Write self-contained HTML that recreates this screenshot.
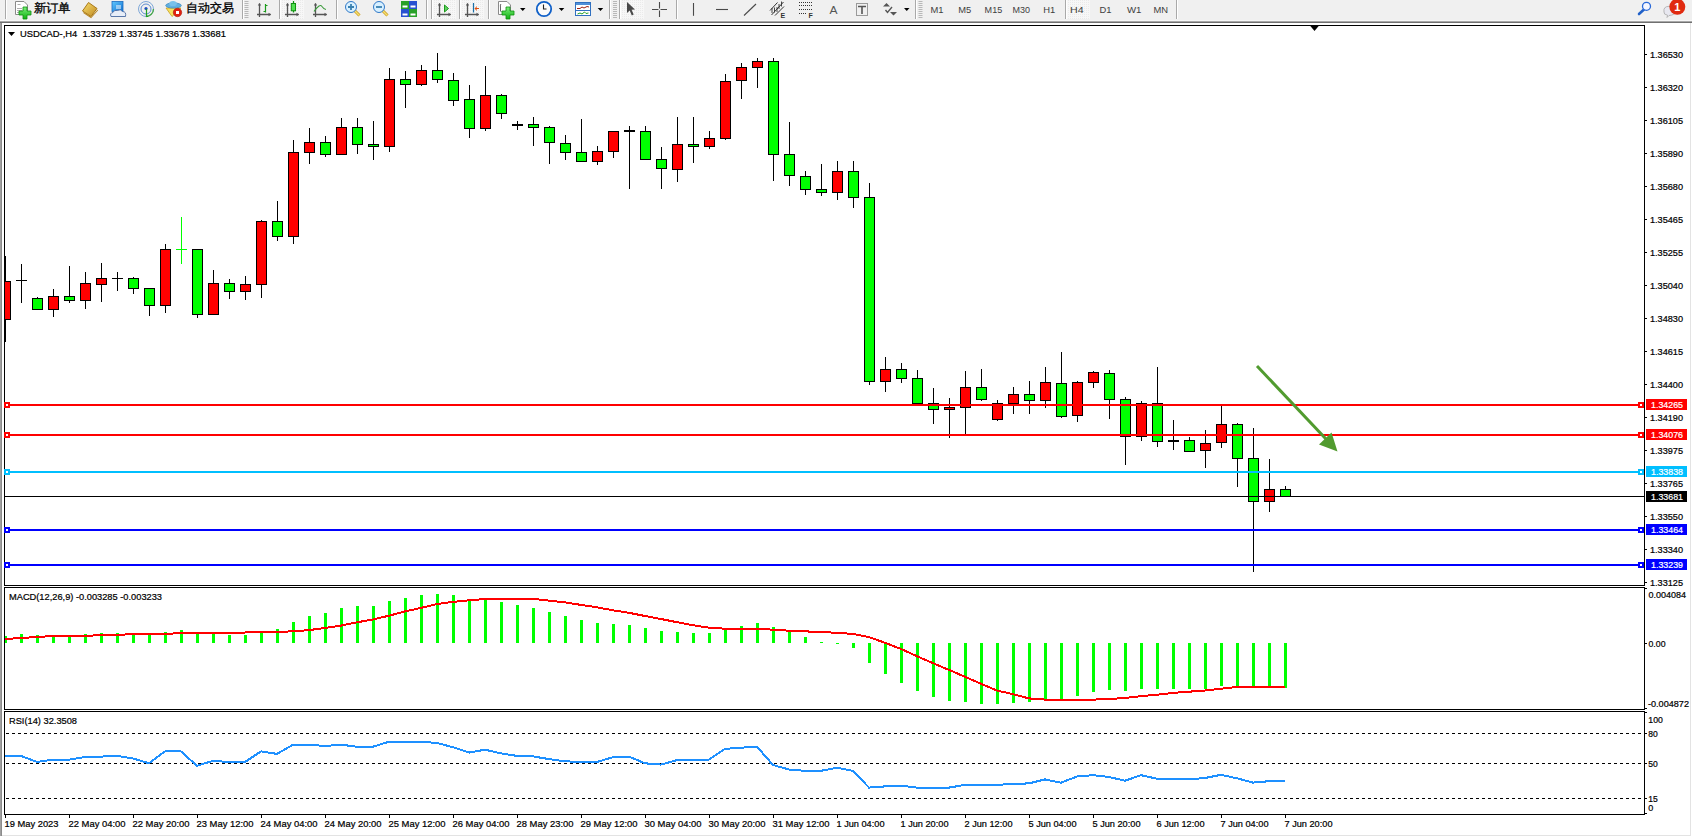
<!DOCTYPE html>
<html><head><meta charset="utf-8"><title>MT4</title>
<style>
html,body{margin:0;padding:0;width:1692px;height:837px;overflow:hidden;background:#FFF}
.t{font-family:"Liberation Sans",sans-serif;font-size:9.7px;fill:#000;stroke:#000;stroke-width:0.22px;white-space:pre}
.tb{font-family:"Liberation Sans",sans-serif;font-size:10px;fill:#333}
#toolbar{position:absolute;left:0;top:0;width:1692px;height:20px;background:#F0F0F0}
</style></head><body>
<svg width="1692" height="837" viewBox="0 0 1692 837" shape-rendering="crispEdges" style="position:absolute;left:0;top:0"><rect x="0" y="0" width="1692" height="837" fill="#FFFFFF"/><defs><clipPath id="cm"><rect x="5" y="26" width="1639" height="559"/></clipPath><clipPath id="cmacd"><rect x="5" y="588" width="1639" height="121"/></clipPath><clipPath id="crsi"><rect x="5" y="712" width="1639" height="102"/></clipPath></defs><rect x="0" y="21" width="1" height="815" fill="#A0A0A0"/><rect x="1" y="21" width="1" height="815" fill="#8C8C8C"/><rect x="0" y="20" width="1692" height="1" fill="#F7F7F7"/><rect x="0" y="21" width="1692" height="1" fill="#A8A8A8"/><rect x="0" y="22" width="1692" height="1" fill="#707070"/><rect x="1690" y="23" width="1" height="813" fill="#E3E3E3"/><rect x="2" y="835" width="1689" height="1" fill="#E3E3E3"/><rect x="4" y="25" width="1641" height="1" fill="#000"/><rect x="4" y="585" width="1641" height="1" fill="#000"/><rect x="4" y="25" width="1" height="561" fill="#000"/><rect x="1644" y="25" width="1" height="561" fill="#000"/><rect x="4" y="587" width="1641" height="1" fill="#000"/><rect x="4" y="709" width="1641" height="1" fill="#000"/><rect x="4" y="587" width="1" height="123" fill="#000"/><rect x="1644" y="587" width="1" height="123" fill="#000"/><rect x="4" y="711" width="1641" height="1" fill="#000"/><rect x="4" y="814" width="1641" height="1" fill="#000"/><rect x="4" y="711" width="1" height="104" fill="#000"/><rect x="1644" y="711" width="1" height="104" fill="#000"/><g clip-path="url(#cm)"><rect x="5" y="256" width="1" height="86" fill="#000"/><rect x="0" y="281" width="11" height="39" fill="#000"/><rect x="1" y="282" width="9" height="37" fill="#FF0000"/><rect x="21" y="264" width="1" height="39" fill="#000"/><rect x="16" y="280" width="11" height="1" fill="#000"/><rect x="37" y="297" width="1" height="13" fill="#000"/><rect x="32" y="298" width="11" height="12" fill="#000"/><rect x="33" y="299" width="9" height="10" fill="#00FF00"/><rect x="53" y="289" width="1" height="28" fill="#000"/><rect x="48" y="296" width="11" height="14" fill="#000"/><rect x="49" y="297" width="9" height="12" fill="#FF0000"/><rect x="69" y="266" width="1" height="37" fill="#000"/><rect x="64" y="296" width="11" height="5" fill="#000"/><rect x="65" y="297" width="9" height="3" fill="#00FF00"/><rect x="85" y="272" width="1" height="37" fill="#000"/><rect x="80" y="283" width="11" height="18" fill="#000"/><rect x="81" y="284" width="9" height="16" fill="#FF0000"/><rect x="101" y="263" width="1" height="39" fill="#000"/><rect x="96" y="278" width="11" height="7" fill="#000"/><rect x="97" y="279" width="9" height="5" fill="#FF0000"/><rect x="117" y="272" width="1" height="19" fill="#000"/><rect x="112" y="278" width="11" height="1" fill="#000"/><rect x="133" y="277" width="1" height="17" fill="#000"/><rect x="128" y="278" width="11" height="11" fill="#000"/><rect x="129" y="279" width="9" height="9" fill="#00FF00"/><rect x="149" y="288" width="1" height="28" fill="#000"/><rect x="144" y="288" width="11" height="18" fill="#000"/><rect x="145" y="289" width="9" height="16" fill="#00FF00"/><rect x="165" y="244" width="1" height="69" fill="#000"/><rect x="160" y="249" width="11" height="57" fill="#000"/><rect x="161" y="250" width="9" height="55" fill="#FF0000"/><rect x="181" y="217" width="1" height="47" fill="#00FF00"/><rect x="176" y="249" width="11" height="1" fill="#00FF00"/><rect x="197" y="249" width="1" height="69" fill="#000"/><rect x="192" y="249" width="11" height="66" fill="#000"/><rect x="193" y="250" width="9" height="64" fill="#00FF00"/><rect x="213" y="270" width="1" height="45" fill="#000"/><rect x="208" y="283" width="11" height="32" fill="#000"/><rect x="209" y="284" width="9" height="30" fill="#FF0000"/><rect x="229" y="279" width="1" height="20" fill="#000"/><rect x="224" y="283" width="11" height="9" fill="#000"/><rect x="225" y="284" width="9" height="7" fill="#00FF00"/><rect x="245" y="276" width="1" height="24" fill="#000"/><rect x="240" y="284" width="11" height="8" fill="#000"/><rect x="241" y="285" width="9" height="6" fill="#FF0000"/><rect x="261" y="220" width="1" height="78" fill="#000"/><rect x="256" y="221" width="11" height="64" fill="#000"/><rect x="257" y="222" width="9" height="62" fill="#FF0000"/><rect x="277" y="201" width="1" height="40" fill="#000"/><rect x="272" y="221" width="11" height="16" fill="#000"/><rect x="273" y="222" width="9" height="14" fill="#00FF00"/><rect x="293" y="140" width="1" height="104" fill="#000"/><rect x="288" y="152" width="11" height="85" fill="#000"/><rect x="289" y="153" width="9" height="83" fill="#FF0000"/><rect x="309" y="128" width="1" height="36" fill="#000"/><rect x="304" y="142" width="11" height="11" fill="#000"/><rect x="305" y="143" width="9" height="9" fill="#FF0000"/><rect x="325" y="136" width="1" height="21" fill="#000"/><rect x="320" y="142" width="11" height="13" fill="#000"/><rect x="321" y="143" width="9" height="11" fill="#00FF00"/><rect x="341" y="118" width="1" height="37" fill="#000"/><rect x="336" y="127" width="11" height="28" fill="#000"/><rect x="337" y="128" width="9" height="26" fill="#FF0000"/><rect x="357" y="118" width="1" height="36" fill="#000"/><rect x="352" y="127" width="11" height="18" fill="#000"/><rect x="353" y="128" width="9" height="16" fill="#00FF00"/><rect x="373" y="121" width="1" height="39" fill="#000"/><rect x="368" y="144" width="11" height="3" fill="#000"/><rect x="369" y="145" width="9" height="1" fill="#00FF00"/><rect x="389" y="68" width="1" height="84" fill="#000"/><rect x="384" y="79" width="11" height="68" fill="#000"/><rect x="385" y="80" width="9" height="66" fill="#FF0000"/><rect x="405" y="71" width="1" height="37" fill="#000"/><rect x="400" y="79" width="11" height="6" fill="#000"/><rect x="401" y="80" width="9" height="4" fill="#00FF00"/><rect x="421" y="65" width="1" height="21" fill="#000"/><rect x="416" y="70" width="11" height="15" fill="#000"/><rect x="417" y="71" width="9" height="13" fill="#FF0000"/><rect x="437" y="53" width="1" height="30" fill="#000"/><rect x="432" y="70" width="11" height="10" fill="#000"/><rect x="433" y="71" width="9" height="8" fill="#00FF00"/><rect x="453" y="73" width="1" height="33" fill="#000"/><rect x="448" y="80" width="11" height="21" fill="#000"/><rect x="449" y="81" width="9" height="19" fill="#00FF00"/><rect x="469" y="85" width="1" height="53" fill="#000"/><rect x="464" y="99" width="11" height="30" fill="#000"/><rect x="465" y="100" width="9" height="28" fill="#00FF00"/><rect x="485" y="66" width="1" height="65" fill="#000"/><rect x="480" y="95" width="11" height="34" fill="#000"/><rect x="481" y="96" width="9" height="32" fill="#FF0000"/><rect x="501" y="94" width="1" height="25" fill="#000"/><rect x="496" y="95" width="11" height="19" fill="#000"/><rect x="497" y="96" width="9" height="17" fill="#00FF00"/><rect x="517" y="121" width="1" height="9" fill="#000"/><rect x="512" y="124" width="11" height="2" fill="#000"/><rect x="533" y="117" width="1" height="29" fill="#000"/><rect x="528" y="124" width="11" height="4" fill="#000"/><rect x="529" y="125" width="9" height="2" fill="#00FF00"/><rect x="549" y="126" width="1" height="38" fill="#000"/><rect x="544" y="127" width="11" height="16" fill="#000"/><rect x="545" y="128" width="9" height="14" fill="#00FF00"/><rect x="565" y="135" width="1" height="25" fill="#000"/><rect x="560" y="143" width="11" height="10" fill="#000"/><rect x="561" y="144" width="9" height="8" fill="#00FF00"/><rect x="581" y="119" width="1" height="43" fill="#000"/><rect x="576" y="152" width="11" height="10" fill="#000"/><rect x="577" y="153" width="9" height="8" fill="#00FF00"/><rect x="597" y="146" width="1" height="19" fill="#000"/><rect x="592" y="151" width="11" height="11" fill="#000"/><rect x="593" y="152" width="9" height="9" fill="#FF0000"/><rect x="613" y="131" width="1" height="27" fill="#000"/><rect x="608" y="131" width="11" height="21" fill="#000"/><rect x="609" y="132" width="9" height="19" fill="#FF0000"/><rect x="629" y="126" width="1" height="63" fill="#000"/><rect x="624" y="130" width="11" height="2" fill="#000"/><rect x="645" y="126" width="1" height="34" fill="#000"/><rect x="640" y="131" width="11" height="29" fill="#000"/><rect x="641" y="132" width="9" height="27" fill="#00FF00"/><rect x="661" y="147" width="1" height="42" fill="#000"/><rect x="656" y="159" width="11" height="10" fill="#000"/><rect x="657" y="160" width="9" height="8" fill="#00FF00"/><rect x="677" y="117" width="1" height="65" fill="#000"/><rect x="672" y="144" width="11" height="26" fill="#000"/><rect x="673" y="145" width="9" height="24" fill="#FF0000"/><rect x="693" y="117" width="1" height="46" fill="#000"/><rect x="688" y="144" width="11" height="3" fill="#000"/><rect x="689" y="145" width="9" height="1" fill="#00FF00"/><rect x="709" y="131" width="1" height="18" fill="#000"/><rect x="704" y="138" width="11" height="9" fill="#000"/><rect x="705" y="139" width="9" height="7" fill="#FF0000"/><rect x="725" y="74" width="1" height="66" fill="#000"/><rect x="720" y="81" width="11" height="58" fill="#000"/><rect x="721" y="82" width="9" height="56" fill="#FF0000"/><rect x="741" y="63" width="1" height="36" fill="#000"/><rect x="736" y="67" width="11" height="14" fill="#000"/><rect x="737" y="68" width="9" height="12" fill="#FF0000"/><rect x="757" y="58" width="1" height="30" fill="#000"/><rect x="752" y="61" width="11" height="7" fill="#000"/><rect x="753" y="62" width="9" height="5" fill="#FF0000"/><rect x="773" y="58" width="1" height="123" fill="#000"/><rect x="768" y="61" width="11" height="94" fill="#000"/><rect x="769" y="62" width="9" height="92" fill="#00FF00"/><rect x="789" y="122" width="1" height="64" fill="#000"/><rect x="784" y="154" width="11" height="22" fill="#000"/><rect x="785" y="155" width="9" height="20" fill="#00FF00"/><rect x="805" y="171" width="1" height="24" fill="#000"/><rect x="800" y="176" width="11" height="14" fill="#000"/><rect x="801" y="177" width="9" height="12" fill="#00FF00"/><rect x="821" y="164" width="1" height="32" fill="#000"/><rect x="816" y="189" width="11" height="4" fill="#000"/><rect x="817" y="190" width="9" height="2" fill="#00FF00"/><rect x="837" y="161" width="1" height="39" fill="#000"/><rect x="832" y="171" width="11" height="22" fill="#000"/><rect x="833" y="172" width="9" height="20" fill="#FF0000"/><rect x="853" y="161" width="1" height="47" fill="#000"/><rect x="848" y="171" width="11" height="27" fill="#000"/><rect x="849" y="172" width="9" height="25" fill="#00FF00"/><rect x="869" y="183" width="1" height="202" fill="#000"/><rect x="864" y="197" width="11" height="185" fill="#000"/><rect x="865" y="198" width="9" height="183" fill="#00FF00"/><rect x="885" y="357" width="1" height="35" fill="#000"/><rect x="880" y="369" width="11" height="13" fill="#000"/><rect x="881" y="370" width="9" height="11" fill="#FF0000"/><rect x="901" y="363" width="1" height="20" fill="#000"/><rect x="896" y="369" width="11" height="10" fill="#000"/><rect x="897" y="370" width="9" height="8" fill="#00FF00"/><rect x="917" y="370" width="1" height="34" fill="#000"/><rect x="912" y="378" width="11" height="26" fill="#000"/><rect x="913" y="379" width="9" height="24" fill="#00FF00"/><rect x="933" y="388" width="1" height="36" fill="#000"/><rect x="928" y="403" width="11" height="7" fill="#000"/><rect x="929" y="404" width="9" height="5" fill="#00FF00"/><rect x="949" y="398" width="1" height="40" fill="#000"/><rect x="944" y="407" width="11" height="3" fill="#000"/><rect x="945" y="408" width="9" height="1" fill="#FF0000"/><rect x="965" y="371" width="1" height="63" fill="#000"/><rect x="960" y="387" width="11" height="21" fill="#000"/><rect x="961" y="388" width="9" height="19" fill="#FF0000"/><rect x="981" y="369" width="1" height="32" fill="#000"/><rect x="976" y="387" width="11" height="13" fill="#000"/><rect x="977" y="388" width="9" height="11" fill="#00FF00"/><rect x="997" y="400" width="1" height="21" fill="#000"/><rect x="992" y="403" width="11" height="17" fill="#000"/><rect x="993" y="404" width="9" height="15" fill="#FF0000"/><rect x="1013" y="387" width="1" height="27" fill="#000"/><rect x="1008" y="394" width="11" height="10" fill="#000"/><rect x="1009" y="395" width="9" height="8" fill="#FF0000"/><rect x="1029" y="381" width="1" height="33" fill="#000"/><rect x="1024" y="394" width="11" height="7" fill="#000"/><rect x="1025" y="395" width="9" height="5" fill="#00FF00"/><rect x="1045" y="367" width="1" height="41" fill="#000"/><rect x="1040" y="382" width="11" height="19" fill="#000"/><rect x="1041" y="383" width="9" height="17" fill="#FF0000"/><rect x="1061" y="352" width="1" height="66" fill="#000"/><rect x="1056" y="383" width="11" height="34" fill="#000"/><rect x="1057" y="384" width="9" height="32" fill="#00FF00"/><rect x="1077" y="381" width="1" height="41" fill="#000"/><rect x="1072" y="382" width="11" height="34" fill="#000"/><rect x="1073" y="383" width="9" height="32" fill="#FF0000"/><rect x="1093" y="371" width="1" height="17" fill="#000"/><rect x="1088" y="372" width="11" height="11" fill="#000"/><rect x="1089" y="373" width="9" height="9" fill="#FF0000"/><rect x="1109" y="370" width="1" height="49" fill="#000"/><rect x="1104" y="373" width="11" height="27" fill="#000"/><rect x="1105" y="374" width="9" height="25" fill="#00FF00"/><rect x="1125" y="397" width="1" height="68" fill="#000"/><rect x="1120" y="399" width="11" height="38" fill="#000"/><rect x="1121" y="400" width="9" height="36" fill="#00FF00"/><rect x="1141" y="401" width="1" height="40" fill="#000"/><rect x="1136" y="403" width="11" height="34" fill="#000"/><rect x="1137" y="404" width="9" height="32" fill="#FF0000"/><rect x="1157" y="367" width="1" height="80" fill="#000"/><rect x="1152" y="403" width="11" height="39" fill="#000"/><rect x="1153" y="404" width="9" height="37" fill="#00FF00"/><rect x="1173" y="420" width="1" height="30" fill="#000"/><rect x="1168" y="440" width="11" height="2" fill="#000"/><rect x="1189" y="437" width="1" height="15" fill="#000"/><rect x="1184" y="440" width="11" height="12" fill="#000"/><rect x="1185" y="441" width="9" height="10" fill="#00FF00"/><rect x="1205" y="430" width="1" height="38" fill="#000"/><rect x="1200" y="443" width="11" height="8" fill="#000"/><rect x="1201" y="444" width="9" height="6" fill="#FF0000"/><rect x="1221" y="406" width="1" height="42" fill="#000"/><rect x="1216" y="424" width="11" height="19" fill="#000"/><rect x="1217" y="425" width="9" height="17" fill="#FF0000"/><rect x="1237" y="423" width="1" height="64" fill="#000"/><rect x="1232" y="424" width="11" height="35" fill="#000"/><rect x="1233" y="425" width="9" height="33" fill="#00FF00"/><rect x="1253" y="428" width="1" height="144" fill="#000"/><rect x="1248" y="458" width="11" height="44" fill="#000"/><rect x="1249" y="459" width="9" height="42" fill="#00FF00"/><rect x="1269" y="459" width="1" height="53" fill="#000"/><rect x="1264" y="489" width="11" height="13" fill="#000"/><rect x="1265" y="490" width="9" height="11" fill="#FF0000"/><rect x="1285" y="486" width="1" height="11" fill="#000"/><rect x="1280" y="489" width="11" height="8" fill="#000"/><rect x="1281" y="490" width="9" height="6" fill="#00FF00"/></g><rect x="5" y="404" width="1639" height="2" fill="#FF0000"/><rect x="4" y="402" width="6" height="6" fill="#FF0000"/><rect x="6" y="404" width="2" height="2" fill="#FFF"/><rect x="1638" y="402" width="6" height="6" fill="#FF0000"/><rect x="1640" y="404" width="2" height="2" fill="#FFF"/><rect x="5" y="434" width="1639" height="2" fill="#FF0000"/><rect x="4" y="432" width="6" height="6" fill="#FF0000"/><rect x="6" y="434" width="2" height="2" fill="#FFF"/><rect x="1638" y="432" width="6" height="6" fill="#FF0000"/><rect x="1640" y="434" width="2" height="2" fill="#FFF"/><rect x="5" y="471" width="1639" height="2" fill="#00BFFF"/><rect x="4" y="469" width="6" height="6" fill="#00BFFF"/><rect x="6" y="471" width="2" height="2" fill="#FFF"/><rect x="1638" y="469" width="6" height="6" fill="#00BFFF"/><rect x="1640" y="471" width="2" height="2" fill="#FFF"/><rect x="5" y="496" width="1639" height="1" fill="#000"/><rect x="5" y="529" width="1639" height="2" fill="#0000FF"/><rect x="4" y="527" width="6" height="6" fill="#0000FF"/><rect x="6" y="529" width="2" height="2" fill="#FFF"/><rect x="1638" y="527" width="6" height="6" fill="#0000FF"/><rect x="1640" y="529" width="2" height="2" fill="#FFF"/><rect x="5" y="564" width="1639" height="2" fill="#0000FF"/><rect x="4" y="562" width="6" height="6" fill="#0000FF"/><rect x="6" y="564" width="2" height="2" fill="#FFF"/><rect x="1638" y="562" width="6" height="6" fill="#0000FF"/><rect x="1640" y="564" width="2" height="2" fill="#FFF"/><g shape-rendering="geometricPrecision"><line x1="1257" y1="366" x2="1326" y2="439" stroke="#519B2F" stroke-width="3"/><polygon points="1337.5,451.5 1319,444.5 1331.5,432.5" fill="#519B2F"/></g><polygon points="1309.5,25 1319.5,25 1314.5,31" fill="#000" shape-rendering="geometricPrecision"/><rect x="1645" y="54" width="2" height="1" fill="#000"/><text x="1650" y="58" textLength="33" lengthAdjust="spacingAndGlyphs" class="t">1.36530</text><rect x="1645" y="87" width="2" height="1" fill="#000"/><text x="1650" y="91" textLength="33" lengthAdjust="spacingAndGlyphs" class="t">1.36320</text><rect x="1645" y="120" width="2" height="1" fill="#000"/><text x="1650" y="124" textLength="33" lengthAdjust="spacingAndGlyphs" class="t">1.36105</text><rect x="1645" y="153" width="2" height="1" fill="#000"/><text x="1650" y="157" textLength="33" lengthAdjust="spacingAndGlyphs" class="t">1.35890</text><rect x="1645" y="186" width="2" height="1" fill="#000"/><text x="1650" y="190" textLength="33" lengthAdjust="spacingAndGlyphs" class="t">1.35680</text><rect x="1645" y="219" width="2" height="1" fill="#000"/><text x="1650" y="223" textLength="33" lengthAdjust="spacingAndGlyphs" class="t">1.35465</text><rect x="1645" y="252" width="2" height="1" fill="#000"/><text x="1650" y="256" textLength="33" lengthAdjust="spacingAndGlyphs" class="t">1.35255</text><rect x="1645" y="285" width="2" height="1" fill="#000"/><text x="1650" y="289" textLength="33" lengthAdjust="spacingAndGlyphs" class="t">1.35040</text><rect x="1645" y="318" width="2" height="1" fill="#000"/><text x="1650" y="322" textLength="33" lengthAdjust="spacingAndGlyphs" class="t">1.34830</text><rect x="1645" y="351" width="2" height="1" fill="#000"/><text x="1650" y="355" textLength="33" lengthAdjust="spacingAndGlyphs" class="t">1.34615</text><rect x="1645" y="384" width="2" height="1" fill="#000"/><text x="1650" y="388" textLength="33" lengthAdjust="spacingAndGlyphs" class="t">1.34400</text><rect x="1645" y="417" width="2" height="1" fill="#000"/><text x="1650" y="421" textLength="33" lengthAdjust="spacingAndGlyphs" class="t">1.34190</text><rect x="1645" y="450" width="2" height="1" fill="#000"/><text x="1650" y="454" textLength="33" lengthAdjust="spacingAndGlyphs" class="t">1.33975</text><rect x="1645" y="483" width="2" height="1" fill="#000"/><text x="1650" y="487" textLength="33" lengthAdjust="spacingAndGlyphs" class="t">1.33765</text><rect x="1645" y="516" width="2" height="1" fill="#000"/><text x="1650" y="520" textLength="33" lengthAdjust="spacingAndGlyphs" class="t">1.33550</text><rect x="1645" y="549" width="2" height="1" fill="#000"/><text x="1650" y="553" textLength="33" lengthAdjust="spacingAndGlyphs" class="t">1.33340</text><rect x="1645" y="582" width="2" height="1" fill="#000"/><text x="1650" y="586" textLength="33" lengthAdjust="spacingAndGlyphs" class="t">1.33125</text><rect x="1646" y="399" width="41" height="11" fill="#FF0000"/><text x="1651" y="408" textLength="32" lengthAdjust="spacingAndGlyphs" class="t" style="fill:#FFF;stroke:#FFF">1.34265</text><rect x="1646" y="429" width="41" height="11" fill="#FF0000"/><text x="1651" y="438" textLength="32" lengthAdjust="spacingAndGlyphs" class="t" style="fill:#FFF;stroke:#FFF">1.34076</text><rect x="1646" y="466" width="41" height="11" fill="#00BFFF"/><text x="1651" y="475" textLength="32" lengthAdjust="spacingAndGlyphs" class="t" style="fill:#FFF;stroke:#FFF">1.33838</text><rect x="1646" y="491" width="41" height="11" fill="#000000"/><text x="1651" y="500" textLength="32" lengthAdjust="spacingAndGlyphs" class="t" style="fill:#FFF;stroke:#FFF">1.33681</text><rect x="1646" y="524" width="41" height="11" fill="#0000FF"/><text x="1651" y="533" textLength="32" lengthAdjust="spacingAndGlyphs" class="t" style="fill:#FFF;stroke:#FFF">1.33464</text><rect x="1646" y="559" width="41" height="11" fill="#0000FF"/><text x="1651" y="568" textLength="32" lengthAdjust="spacingAndGlyphs" class="t" style="fill:#FFF;stroke:#FFF">1.33239</text><text x="20" y="37" textLength="206" lengthAdjust="spacingAndGlyphs" class="t" xml:space="preserve">USDCAD-,H4  1.33729 1.33745 1.33678 1.33681</text><polygon points="8,32 15,32 11.5,36" fill="#000" shape-rendering="geometricPrecision"/><g clip-path="url(#cmacd)"><rect x="4" y="636" width="3" height="7" fill="#00FF00"/><rect x="20" y="634" width="3" height="9" fill="#00FF00"/><rect x="36" y="635" width="3" height="8" fill="#00FF00"/><rect x="52" y="635" width="3" height="8" fill="#00FF00"/><rect x="68" y="636" width="3" height="7" fill="#00FF00"/><rect x="84" y="634" width="3" height="9" fill="#00FF00"/><rect x="100" y="633" width="3" height="10" fill="#00FF00"/><rect x="116" y="633" width="3" height="10" fill="#00FF00"/><rect x="132" y="633" width="3" height="10" fill="#00FF00"/><rect x="148" y="634" width="3" height="9" fill="#00FF00"/><rect x="164" y="632" width="3" height="11" fill="#00FF00"/><rect x="180" y="630" width="3" height="13" fill="#00FF00"/><rect x="196" y="634" width="3" height="9" fill="#00FF00"/><rect x="212" y="634" width="3" height="9" fill="#00FF00"/><rect x="228" y="635" width="3" height="8" fill="#00FF00"/><rect x="244" y="635" width="3" height="8" fill="#00FF00"/><rect x="260" y="631" width="3" height="12" fill="#00FF00"/><rect x="276" y="629" width="3" height="14" fill="#00FF00"/><rect x="292" y="622" width="3" height="21" fill="#00FF00"/><rect x="308" y="616" width="3" height="27" fill="#00FF00"/><rect x="324" y="613" width="3" height="30" fill="#00FF00"/><rect x="340" y="608" width="3" height="35" fill="#00FF00"/><rect x="356" y="606" width="3" height="37" fill="#00FF00"/><rect x="372" y="606" width="3" height="37" fill="#00FF00"/><rect x="388" y="601" width="3" height="42" fill="#00FF00"/><rect x="404" y="598" width="3" height="45" fill="#00FF00"/><rect x="420" y="595" width="3" height="48" fill="#00FF00"/><rect x="436" y="594" width="3" height="49" fill="#00FF00"/><rect x="452" y="595" width="3" height="48" fill="#00FF00"/><rect x="468" y="599" width="3" height="44" fill="#00FF00"/><rect x="484" y="600" width="3" height="43" fill="#00FF00"/><rect x="500" y="602" width="3" height="41" fill="#00FF00"/><rect x="516" y="605" width="3" height="38" fill="#00FF00"/><rect x="532" y="608" width="3" height="35" fill="#00FF00"/><rect x="548" y="612" width="3" height="31" fill="#00FF00"/><rect x="564" y="616" width="3" height="27" fill="#00FF00"/><rect x="580" y="620" width="3" height="23" fill="#00FF00"/><rect x="596" y="623" width="3" height="20" fill="#00FF00"/><rect x="612" y="624" width="3" height="19" fill="#00FF00"/><rect x="628" y="625" width="3" height="18" fill="#00FF00"/><rect x="644" y="628" width="3" height="15" fill="#00FF00"/><rect x="660" y="631" width="3" height="12" fill="#00FF00"/><rect x="676" y="632" width="3" height="11" fill="#00FF00"/><rect x="692" y="633" width="3" height="10" fill="#00FF00"/><rect x="708" y="633" width="3" height="10" fill="#00FF00"/><rect x="724" y="629" width="3" height="14" fill="#00FF00"/><rect x="740" y="626" width="3" height="17" fill="#00FF00"/><rect x="756" y="623" width="3" height="20" fill="#00FF00"/><rect x="772" y="627" width="3" height="16" fill="#00FF00"/><rect x="788" y="631" width="3" height="12" fill="#00FF00"/><rect x="804" y="637" width="3" height="6" fill="#00FF00"/><rect x="820" y="642" width="3" height="1" fill="#00FF00"/><rect x="836" y="643" width="3" height="1" fill="#00FF00"/><rect x="852" y="643" width="3" height="5" fill="#00FF00"/><rect x="868" y="643" width="3" height="20" fill="#00FF00"/><rect x="884" y="643" width="3" height="31" fill="#00FF00"/><rect x="900" y="643" width="3" height="40" fill="#00FF00"/><rect x="916" y="643" width="3" height="48" fill="#00FF00"/><rect x="932" y="643" width="3" height="54" fill="#00FF00"/><rect x="948" y="643" width="3" height="58" fill="#00FF00"/><rect x="964" y="643" width="3" height="59" fill="#00FF00"/><rect x="980" y="643" width="3" height="61" fill="#00FF00"/><rect x="996" y="643" width="3" height="61" fill="#00FF00"/><rect x="1012" y="643" width="3" height="60" fill="#00FF00"/><rect x="1028" y="643" width="3" height="59" fill="#00FF00"/><rect x="1044" y="643" width="3" height="58" fill="#00FF00"/><rect x="1060" y="643" width="3" height="57" fill="#00FF00"/><rect x="1076" y="643" width="3" height="53" fill="#00FF00"/><rect x="1092" y="643" width="3" height="49" fill="#00FF00"/><rect x="1108" y="643" width="3" height="47" fill="#00FF00"/><rect x="1124" y="643" width="3" height="48" fill="#00FF00"/><rect x="1140" y="643" width="3" height="46" fill="#00FF00"/><rect x="1156" y="643" width="3" height="46" fill="#00FF00"/><rect x="1172" y="643" width="3" height="46" fill="#00FF00"/><rect x="1188" y="643" width="3" height="46" fill="#00FF00"/><rect x="1204" y="643" width="3" height="46" fill="#00FF00"/><rect x="1220" y="643" width="3" height="43" fill="#00FF00"/><rect x="1236" y="643" width="3" height="43" fill="#00FF00"/><rect x="1252" y="643" width="3" height="44" fill="#00FF00"/><rect x="1268" y="643" width="3" height="44" fill="#00FF00"/><rect x="1284" y="643" width="3" height="45" fill="#00FF00"/><polyline points="5,639 21,638 37,637 53,636 69,636 85,636 101,635 117,635 133,634 149,634 165,634 181,633 197,633 213,633 229,633 245,632.5 261,632 277,632 293,631.3 309,630.1 325,628 341,625.6 357,622.3 373,619.5 389,615.7 405,611.4 421,607.9 437,604 453,601.9 469,600.3 485,599 501,598.6 517,598.6 533,598.9 549,600.6 565,602.4 581,604.9 597,607.3 613,610.3 629,612.8 645,616 661,619 677,622.2 693,625.2 709,627.7 725,628.7 741,628.7 757,628.7 773,629.7 789,630.7 805,631.4 821,631.9 837,632.9 853,633.9 869,637.1 885,642.8 901,649 917,656.2 933,663.2 949,669.9 965,676.8 981,683.8 997,690.5 1013,694.2 1029,698.4 1045,699.6 1061,699.6 1077,699.6 1093,699.6 1109,699.1 1125,697.9 1141,696.2 1157,694.7 1173,692.9 1189,691.7 1205,690.5 1221,688.7 1237,687 1253,686.8 1269,686.8 1285,686.8" fill="none" stroke="#FF0000" stroke-width="2"/></g><text x="9" y="600" textLength="153" lengthAdjust="spacingAndGlyphs" class="t">MACD(12,26,9) -0.003285 -0.003233</text><rect x="1645" y="588" width="2" height="1" fill="#000"/><rect x="1645" y="643" width="2" height="1" fill="#000"/><rect x="1645" y="708" width="2" height="1" fill="#000"/><text x="1648.5" y="598" textLength="37.5" lengthAdjust="spacingAndGlyphs" class="t">0.004084</text><text x="1648.5" y="647" textLength="17" lengthAdjust="spacingAndGlyphs" class="t">0.00</text><text x="1648" y="707" textLength="41" lengthAdjust="spacingAndGlyphs" class="t">-0.004872</text><line x1="6" y1="733.5" x2="1644" y2="733.5" stroke="#000" stroke-width="1" stroke-dasharray="3 3"/><line x1="6" y1="763.5" x2="1644" y2="763.5" stroke="#000" stroke-width="1" stroke-dasharray="3 3"/><line x1="6" y1="798.5" x2="1644" y2="798.5" stroke="#000" stroke-width="1" stroke-dasharray="3 3"/><g clip-path="url(#crsi)"><polyline points="5,755.9 21,755.9 37,762 53,759.6 69,759.6 85,757.1 101,756.6 117,755.9 133,758.4 149,763.3 165,751.4 181,751.4 197,765.8 213,760.8 229,762 245,762 261,751.4 277,753.9 293,744.7 309,744.7 325,746 341,744.7 357,746.7 373,746.7 389,741.7 405,741.7 421,741.7 437,743 453,747.2 469,752.6 485,749.7 501,753.4 517,755.9 533,756.4 549,759.1 565,761.3 581,762 597,762 613,757.1 629,756.6 645,763.3 661,764.6 677,760.1 693,759.6 709,759.6 725,748.9 741,747.7 757,746.7 773,765 789,769.5 805,770.8 821,770.8 837,767.8 853,770.8 869,787.6 885,786.4 901,785.6 917,787.6 933,787.6 949,787.6 965,784.9 981,784.9 997,784.9 1013,783.9 1029,783.4 1045,779.4 1061,782.7 1077,776.5 1093,775.2 1109,777 1125,780.7 1141,775.2 1157,778.7 1173,778.7 1189,779.4 1205,778 1221,774.8 1237,778.3 1253,782.6 1269,781.2 1285,780.6" fill="none" stroke="#1E90FF" stroke-width="2"/></g><text x="9" y="724" textLength="68" lengthAdjust="spacingAndGlyphs" class="t">RSI(14) 32.3508</text><rect x="1645" y="712" width="2" height="1" fill="#000"/><rect x="1645" y="733" width="2" height="1" fill="#000"/><rect x="1645" y="763" width="2" height="1" fill="#000"/><rect x="1645" y="798" width="2" height="1" fill="#000"/><rect x="1645" y="813" width="2" height="1" fill="#000"/><text x="1648.3" y="723" textLength="14.5" lengthAdjust="spacingAndGlyphs" class="t">100</text><text x="1648.3" y="737" textLength="9.5" lengthAdjust="spacingAndGlyphs" class="t">80</text><text x="1648.3" y="767" textLength="9.5" lengthAdjust="spacingAndGlyphs" class="t">50</text><text x="1648.3" y="802" textLength="9.5" lengthAdjust="spacingAndGlyphs" class="t">15</text><text x="1648.3" y="811" textLength="5" lengthAdjust="spacingAndGlyphs" class="t">0</text><rect x="5" y="815" width="1" height="3" fill="#000"/><text x="4.5" y="827" textLength="54" lengthAdjust="spacingAndGlyphs" class="t">19 May 2023</text><rect x="69" y="815" width="1" height="3" fill="#000"/><text x="68.5" y="827" textLength="57" lengthAdjust="spacingAndGlyphs" class="t">22 May 04:00</text><rect x="133" y="815" width="1" height="3" fill="#000"/><text x="132.5" y="827" textLength="57" lengthAdjust="spacingAndGlyphs" class="t">22 May 20:00</text><rect x="197" y="815" width="1" height="3" fill="#000"/><text x="196.5" y="827" textLength="57" lengthAdjust="spacingAndGlyphs" class="t">23 May 12:00</text><rect x="261" y="815" width="1" height="3" fill="#000"/><text x="260.5" y="827" textLength="57" lengthAdjust="spacingAndGlyphs" class="t">24 May 04:00</text><rect x="325" y="815" width="1" height="3" fill="#000"/><text x="324.5" y="827" textLength="57" lengthAdjust="spacingAndGlyphs" class="t">24 May 20:00</text><rect x="389" y="815" width="1" height="3" fill="#000"/><text x="388.5" y="827" textLength="57" lengthAdjust="spacingAndGlyphs" class="t">25 May 12:00</text><rect x="453" y="815" width="1" height="3" fill="#000"/><text x="452.5" y="827" textLength="57" lengthAdjust="spacingAndGlyphs" class="t">26 May 04:00</text><rect x="517" y="815" width="1" height="3" fill="#000"/><text x="516.5" y="827" textLength="57" lengthAdjust="spacingAndGlyphs" class="t">28 May 23:00</text><rect x="581" y="815" width="1" height="3" fill="#000"/><text x="580.5" y="827" textLength="57" lengthAdjust="spacingAndGlyphs" class="t">29 May 12:00</text><rect x="645" y="815" width="1" height="3" fill="#000"/><text x="644.5" y="827" textLength="57" lengthAdjust="spacingAndGlyphs" class="t">30 May 04:00</text><rect x="709" y="815" width="1" height="3" fill="#000"/><text x="708.5" y="827" textLength="57" lengthAdjust="spacingAndGlyphs" class="t">30 May 20:00</text><rect x="773" y="815" width="1" height="3" fill="#000"/><text x="772.5" y="827" textLength="57" lengthAdjust="spacingAndGlyphs" class="t">31 May 12:00</text><rect x="837" y="815" width="1" height="3" fill="#000"/><text x="836.5" y="827" textLength="48" lengthAdjust="spacingAndGlyphs" class="t">1 Jun 04:00</text><rect x="901" y="815" width="1" height="3" fill="#000"/><text x="900.5" y="827" textLength="48" lengthAdjust="spacingAndGlyphs" class="t">1 Jun 20:00</text><rect x="965" y="815" width="1" height="3" fill="#000"/><text x="964.5" y="827" textLength="48" lengthAdjust="spacingAndGlyphs" class="t">2 Jun 12:00</text><rect x="1029" y="815" width="1" height="3" fill="#000"/><text x="1028.5" y="827" textLength="48" lengthAdjust="spacingAndGlyphs" class="t">5 Jun 04:00</text><rect x="1093" y="815" width="1" height="3" fill="#000"/><text x="1092.5" y="827" textLength="48" lengthAdjust="spacingAndGlyphs" class="t">5 Jun 20:00</text><rect x="1157" y="815" width="1" height="3" fill="#000"/><text x="1156.5" y="827" textLength="48" lengthAdjust="spacingAndGlyphs" class="t">6 Jun 12:00</text><rect x="1221" y="815" width="1" height="3" fill="#000"/><text x="1220.5" y="827" textLength="48" lengthAdjust="spacingAndGlyphs" class="t">7 Jun 04:00</text><rect x="1285" y="815" width="1" height="3" fill="#000"/><text x="1284.5" y="827" textLength="48" lengthAdjust="spacingAndGlyphs" class="t">7 Jun 20:00</text></svg>
<div id="toolbar"><svg width="1692" height="20" viewBox="0 0 1692 20" style="position:absolute;left:0;top:0">
<defs>
<linearGradient id="gplus" x1="0" y1="0" x2="0" y2="1"><stop offset="0" stop-color="#7CF07C"/><stop offset="1" stop-color="#10B010"/></linearGradient>
<linearGradient id="gbook" x1="0" y1="0" x2="1" y2="1"><stop offset="0" stop-color="#F8E070"/><stop offset="1" stop-color="#C08820"/></linearGradient>
<linearGradient id="gblue" x1="0" y1="0" x2="1" y2="1"><stop offset="0" stop-color="#60C8FF"/><stop offset="1" stop-color="#1070D0"/></linearGradient>
<pattern id="chk" width="2" height="2" patternUnits="userSpaceOnUse"><rect width="2" height="2" fill="#F7F7F7"/><rect width="1" height="1" fill="#EAEAEA"/></pattern>
</defs>
<rect x="0" y="0" width="1692" height="20" fill="#F0F0F0"/>
<g transform="translate(5,0)"><rect x="0" y="0" width="1" height="19" fill="#A9A9A9"/><rect x="1" y="0" width="1" height="19" fill="#FFFFFF"/></g>
<!-- new order -->
<path d="M15.5 1.5 H24 L27.5 5 V14.5 H15.5 Z" fill="#FFF" stroke="#8A8A8A" stroke-width="1"/>
<path d="M17.5 4.5h3 M17 8.5h5 M17 10.5h5 M17 12.5h3" stroke="#9A9A9A" stroke-width="0.8"/>
<path d="M23 7 H27 V11 H31 V15 H27 V19 H23 V15 H19 V11 H23 Z" fill="url(#gplus)" stroke="#0E900E" stroke-width="0.8"/>
<text x="33.5" y="11.6" style="font-family:'Liberation Sans',sans-serif;font-size:12px;fill:#000;stroke:#000;stroke-width:0.3px" textLength="37" lengthAdjust="spacingAndGlyphs">新订单</text>
<!-- book -->
<path d="M82.5 11 L88.5 2.5 L97 8.5 L91 16.5 Z" fill="url(#gbook)" stroke="#A87818" stroke-width="1" stroke-linejoin="round"/>
<path d="M83.5 12.5 L91 17.5 L97.8 10" stroke="#B88828" stroke-width="1.1" fill="none"/>
<!-- cloud doc -->
<rect x="112" y="1.5" width="11" height="10" fill="url(#gblue)" stroke="#1C6CC0" stroke-width="0.8"/>
<path d="M116 6h5 M116 8h5" stroke="#FFF" stroke-width="1"/>
<path d="M111 16.5 Q109.5 13 113 12.5 Q114 9.5 117.5 10.5 Q120.5 8.5 122.5 11.5 Q126.5 11.5 125.5 16.5 Z" fill="#E8EEF8" stroke="#4A6AA0" stroke-width="0.9"/>
<!-- signal -->
<circle cx="146" cy="9" r="7.5" fill="none" stroke="#7FA8D8" stroke-width="1"/>
<circle cx="146" cy="9" r="5" fill="none" stroke="#5C8CD0" stroke-width="1"/>
<path d="M146 16.5 A7.5 7.5 0 0 0 153.5 9" stroke="#46A846" stroke-width="1.3" fill="none"/>
<circle cx="146" cy="8.5" r="1.6" fill="#2050C0"/>
<path d="M146.5 9 V16.5 H148" stroke="#20A020" stroke-width="1.2" fill="none"/>
<!-- auto trading -->
<path d="M166 8 L172 16.5 L181 8 Z" fill="#F5E060" stroke="#C8A020" stroke-width="0.8"/>
<ellipse cx="173.5" cy="5.5" rx="7.8" ry="2.6" fill="#60B0E0" stroke="#3C88C0" stroke-width="0.8"/>
<ellipse cx="173" cy="3.5" rx="3.8" ry="2.6" fill="#78C0EA"/>
<circle cx="177.5" cy="12.5" r="4.2" fill="#E02010" stroke="#B01808" stroke-width="0.6"/>
<rect x="176" y="11" width="3" height="3" fill="#FFF"/>
<text x="186" y="11.6" style="font-family:'Liberation Sans',sans-serif;font-size:12px;fill:#000;stroke:#000;stroke-width:0.3px" textLength="48" lengthAdjust="spacingAndGlyphs">自动交易</text>
<g transform="translate(242,0)"><rect x="0" y="0" width="1" height="19" fill="#A9A9A9"/><rect x="1" y="0" width="1" height="19" fill="#FFFFFF"/></g>
<g transform="translate(244.5,0)"><path d="M0 1.5h4M0 3.5h4M0 5.5h4M0 7.5h4M0 9.5h4M0 11.5h4M0 13.5h4M0 15.5h4M0 17.5h4" stroke="#B8B8B8" stroke-width="1"/></g>
<!-- bar chart -->
<g transform="translate(257,2)"><path d="M2.5 1.5 V15 M0 12.5 H13.5" stroke="#555" stroke-width="1.3" fill="none"/><path d="M0.8 3.6 L2.5 1 L4.2 3.6 Z M11.5 10.8 L14.2 12.5 L11.5 14.2 Z" fill="#555"/></g>
<path d="M265.5 4 V12.5 M265.5 5.5 H267.5 M263.5 11.5 H265.5" stroke="#1A9A1A" stroke-width="1.2" fill="none"/>
<g transform="translate(279,0)"><rect x="0" y="0" width="1" height="19" fill="#A9A9A9"/><rect x="1" y="0" width="1" height="19" fill="#FFFFFF"/></g>
<rect x="281" y="0" width="23" height="19" fill="url(#chk)"/>
<!-- candle -->
<g transform="translate(285,2)"><path d="M2.5 1.5 V15 M0 12.5 H13.5" stroke="#555" stroke-width="1.3" fill="none"/><path d="M0.8 3.6 L2.5 1 L4.2 3.6 Z M11.5 10.8 L14.2 12.5 L11.5 14.2 Z" fill="#555"/></g>
<path d="M293.5 1 V12.5" stroke="#109010" stroke-width="1.2"/>
<rect x="291.3" y="3.5" width="4.2" height="7.3" fill="#50E050" stroke="#109010" stroke-width="1"/>
<!-- line chart -->
<g transform="translate(313,2)"><path d="M2.5 1.5 V15 M0 12.5 H13.5" stroke="#555" stroke-width="1.3" fill="none"/><path d="M0.8 3.6 L2.5 1 L4.2 3.6 Z M11.5 10.8 L14.2 12.5 L11.5 14.2 Z" fill="#555"/></g>
<path d="M314 11.5 Q320 3 322 6.5 Q324 9.5 326 9.5" stroke="#3A9A3A" stroke-width="1.1" fill="none"/>
<g transform="translate(336,0)"><rect x="0" y="0" width="1" height="19" fill="#A9A9A9"/><rect x="1" y="0" width="1" height="19" fill="#FFFFFF"/></g>
<!-- zoom in/out -->
<g id="zin"><path d="M354.5 10.5 L359.5 15.5" stroke="#C89A20" stroke-width="3"/><path d="M354.5 10.5 L359.5 15.5" stroke="#F5E070" stroke-width="1.5"/>
<circle cx="351" cy="7" r="5.5" fill="#D8F0FF" stroke="#2F78C8" stroke-width="1"/></g>
<path d="M348 7 H354 M351 4 V10" stroke="#3A80B0" stroke-width="1.8"/>
<g transform="translate(28,0)"><path d="M354.5 10.5 L359.5 15.5" stroke="#C89A20" stroke-width="3"/><path d="M354.5 10.5 L359.5 15.5" stroke="#F5E070" stroke-width="1.5"/><circle cx="351" cy="7" r="5.5" fill="#D8F0FF" stroke="#2F78C8" stroke-width="1"/></g>
<path d="M376 7 H382" stroke="#3A80B0" stroke-width="1.8"/>
<!-- tile -->
<rect x="401" y="1" width="8" height="8" fill="#28A028"/><rect x="409" y="1" width="8" height="8" fill="#2850D0"/>
<rect x="401" y="9" width="8" height="8" fill="#2850D0"/><rect x="409" y="9" width="8" height="8" fill="#28A028"/>
<path d="M402.5 5.5h5v2h-5z M410.5 5.5h5v2h-5z M402.5 13.5h5v2h-5z M410.5 13.5h5v2h-5z" fill="#FFF"/>
<g transform="translate(426,0)"><rect x="0" y="0" width="1" height="19" fill="#A9A9A9"/><rect x="1" y="0" width="1" height="19" fill="#FFFFFF"/></g><g transform="translate(431,0)"><rect x="0" y="0" width="1" height="19" fill="#A9A9A9"/><rect x="1" y="0" width="1" height="19" fill="#FFFFFF"/></g>
<rect x="433" y="0" width="23" height="19" fill="url(#chk)"/>
<!-- auto scroll -->
<g transform="translate(437,2)"><path d="M2.5 1.5 V15 M0 12.5 H13.5" stroke="#555" stroke-width="1.3" fill="none"/><path d="M0.8 3.6 L2.5 1 L4.2 3.6 Z M11.5 10.8 L14.2 12.5 L11.5 14.2 Z" fill="#555"/></g>
<path d="M444.5 5 L448.5 8.5 L444.5 12 Z" fill="#60D060" stroke="#1A9A1A" stroke-width="1"/>
<g transform="translate(459,0)"><rect x="0" y="0" width="1" height="19" fill="#A9A9A9"/><rect x="1" y="0" width="1" height="19" fill="#FFFFFF"/></g>
<rect x="461" y="0" width="23" height="19" fill="url(#chk)"/>
<!-- chart shift -->
<g transform="translate(465,2)"><path d="M2.5 1.5 V15 M0 12.5 H13.5" stroke="#555" stroke-width="1.3" fill="none"/><path d="M0.8 3.6 L2.5 1 L4.2 3.6 Z M11.5 10.8 L14.2 12.5 L11.5 14.2 Z" fill="#555"/></g>
<path d="M473.5 3 V12.5" stroke="#1A70A8" stroke-width="1.2"/>
<path d="M474.5 8.5 L477 6 L476.5 8 H479 V9 H476.5 L477 11 Z" fill="#E05010"/>
<g transform="translate(488,0)"><rect x="0" y="0" width="1" height="19" fill="#A9A9A9"/><rect x="1" y="0" width="1" height="19" fill="#FFFFFF"/></g>
<!-- indicators -->
<path d="M498.5 1.5 H507 L510.5 5 V14.5 H498.5 Z" fill="#FFF" stroke="#8A8A8A" stroke-width="1"/>
<path d="M501 4 Q500 4 500.5 8 Q500 12 501.5 12" stroke="#555" stroke-width="0.9" fill="none"/>
<path d="M506 7 H510 V11 H514 V15 H510 V19 H506 V15 H502 V11 H506 Z" fill="url(#gplus)" stroke="#0E900E" stroke-width="0.8"/>
<g transform="translate(520,8)"><path d="M0 0 H5.5 L2.75 3 Z" fill="#000"/></g>
<!-- clock -->
<circle cx="544" cy="9" r="7.2" fill="#FAFAFA" stroke="#1060C8" stroke-width="1.8"/>
<path d="M543.5 4.5 V9 H546.5" stroke="#222" stroke-width="1.1" fill="none"/>
<g transform="translate(558.8,8)"><path d="M0 0 H5.5 L2.75 3 Z" fill="#000"/></g>
<!-- template -->
<rect x="575.5" y="2.5" width="15" height="13" fill="#FFF" stroke="#3070C0" stroke-width="1"/>
<rect x="576" y="3" width="14" height="2" fill="#5090D8"/>
<path d="M576 10.5 H590" stroke="#3070C0" stroke-width="1"/>
<path d="M577 8.5 L580 8.5 L582 7 L584 8 L587 6.5 L589 7" stroke="#A02010" stroke-width="1" fill="none"/>
<path d="M577.5 14 L580 13 L582 14 L584.5 12 L586 13.5 L588.5 13" stroke="#20A020" stroke-width="1" fill="none"/>
<g transform="translate(597.7,8)"><path d="M0 0 H5.5 L2.75 3 Z" fill="#000"/></g>
<g transform="translate(609,0)"><rect x="0" y="0" width="1" height="19" fill="#A9A9A9"/><rect x="1" y="0" width="1" height="19" fill="#FFFFFF"/></g>
<g transform="translate(613,0)"><path d="M0 1.5h4M0 3.5h4M0 5.5h4M0 7.5h4M0 9.5h4M0 11.5h4M0 13.5h4M0 15.5h4M0 17.5h4" stroke="#B8B8B8" stroke-width="1"/></g>
<g transform="translate(619,0)"><rect x="0" y="0" width="1" height="19" fill="#A9A9A9"/><rect x="1" y="0" width="1" height="19" fill="#FFFFFF"/></g>
<rect x="621" y="0" width="23" height="19" fill="url(#chk)"/>
<!-- cursor -->
<path d="M627 2 L627 13 L629.7 10.6 L631.8 15.5 L633.7 14.6 L631.6 9.8 L635 9.6 Z" fill="#4A4A4A"/>
<!-- crosshair -->
<path d="M659.5 2 V8.5 M659.5 10.5 V17 M652 9.5 H658.5 M660.5 9.5 H667" stroke="#4A4A4A" stroke-width="1.1"/>
<g transform="translate(676,0)"><rect x="0" y="0" width="1" height="19" fill="#A9A9A9"/><rect x="1" y="0" width="1" height="19" fill="#FFFFFF"/></g>
<path d="M693.5 3 V15.8" stroke="#4A4A4A" stroke-width="1.1"/>
<path d="M716 9.5 H728" stroke="#4A4A4A" stroke-width="1.1"/>
<path d="M744 15.5 L756 4" stroke="#4A4A4A" stroke-width="1.1"/>
<!-- channel E -->
<path d="M770 10.5 L777.5 2.5 M771.5 15 L783.5 2 M775 15.5 L784 6.5" stroke="#333" stroke-width="1" fill="none"/>
<path d="M772 8 v5 M774.5 7.5 v5 M777 7 v5 M779 4 v5 M781.5 1.5 v5" stroke="#333" stroke-width="0.9"/>
<text x="780.5" y="17.5" style="font-family:'Liberation Sans',sans-serif;font-size:7px;font-weight:bold;fill:#333">E</text>
<!-- fibo F -->
<path d="M799 2.5 H812 M799 5.5 H812 M799 9.5 H812 M799 13.5 H807" stroke="#333" stroke-width="1" stroke-dasharray="1 1"/>
<text x="808.5" y="17.5" style="font-family:'Liberation Sans',sans-serif;font-size:7px;font-weight:bold;fill:#333">F</text>
<!-- A -->
<text x="829.5" y="14" style="font-family:'Liberation Sans',sans-serif;font-size:11.5px;fill:#555" textLength="8" lengthAdjust="spacingAndGlyphs">A</text>
<!-- T label -->
<rect x="856.5" y="3.5" width="11" height="12" fill="none" stroke="#444" stroke-width="1" stroke-dasharray="1 1"/>
<path d="M858 6.5 H866 M862 6.5 V14" stroke="#555" stroke-width="1.6"/>
<!-- arrows -->
<path d="M883 6.5 L886.5 3 L890 6.5 Z M890 12 L893.5 15.5 L897 12 Z" fill="#555"/>
<path d="M885.5 10 L887.5 12.5 L892 7" stroke="#555" stroke-width="1.4" fill="none"/>
<g transform="translate(904,8)"><path d="M0 0 H5.5 L2.75 3 Z" fill="#000"/></g>
<g transform="translate(915,0)"><rect x="0" y="0" width="1" height="19" fill="#A9A9A9"/><rect x="1" y="0" width="1" height="19" fill="#FFFFFF"/></g>
<g transform="translate(918.5,0)"><path d="M0 1.5h4M0 3.5h4M0 5.5h4M0 7.5h4M0 9.5h4M0 11.5h4M0 13.5h4M0 15.5h4M0 17.5h4" stroke="#B8B8B8" stroke-width="1"/></g>
<!-- timeframes -->
<g style="font-family:'Liberation Sans',sans-serif;font-size:9.6px;fill:#404040">
<text x="930.5" y="13" textLength="13" lengthAdjust="spacingAndGlyphs">M1</text>
<text x="958.3" y="13" textLength="13" lengthAdjust="spacingAndGlyphs">M5</text>
<text x="984.6" y="13" textLength="17.6" lengthAdjust="spacingAndGlyphs">M15</text>
<text x="1012.5" y="13" textLength="17.5" lengthAdjust="spacingAndGlyphs">M30</text>
<text x="1043.3" y="13" textLength="12" lengthAdjust="spacingAndGlyphs">H1</text>
</g>
<g transform="translate(1065,0)"><rect x="0" y="0" width="1" height="19" fill="#A9A9A9"/><rect x="1" y="0" width="1" height="19" fill="#FFFFFF"/></g>
<rect x="1067" y="0" width="23" height="19" fill="url(#chk)"/>
<g style="font-family:'Liberation Sans',sans-serif;font-size:9.6px;fill:#404040">
<text x="1070" y="13" textLength="13.6" lengthAdjust="spacingAndGlyphs">H4</text>
<text x="1099.5" y="13" textLength="12" lengthAdjust="spacingAndGlyphs">D1</text>
<text x="1127" y="13" textLength="14.5" lengthAdjust="spacingAndGlyphs">W1</text>
<text x="1153.4" y="13" textLength="14.6" lengthAdjust="spacingAndGlyphs">MN</text>
</g>
<g transform="translate(1176,0)"><rect x="0" y="0" width="1" height="19" fill="#A9A9A9"/><rect x="1" y="0" width="1" height="19" fill="#FFFFFF"/></g>
<!-- search -->
<path d="M1644.5 9 L1639 14" stroke="#2060C8" stroke-width="2.6" stroke-linecap="round"/>
<circle cx="1646.5" cy="6.3" r="4" fill="#F4F6FF" stroke="#2868D8" stroke-width="1.3"/>
<!-- chat + badge -->
<path d="M1664 12 Q1663 6.5 1669 6.3 Q1675 6.5 1675 12 Q1675 15 1669 15.5 L1667 17.5 L1667.5 15.2 Q1663.5 14.5 1664 12 Z" fill="#E8E8F0" stroke="#A8A8A8" stroke-width="0.8"/>
<circle cx="1677.3" cy="6.8" r="8" fill="#E02A10"/>
<text x="1674.2" y="11.3" style="font-family:'Liberation Sans',sans-serif;font-size:11px;font-weight:bold;fill:#FFF">1</text>
</svg>
</div>
</body></html>
